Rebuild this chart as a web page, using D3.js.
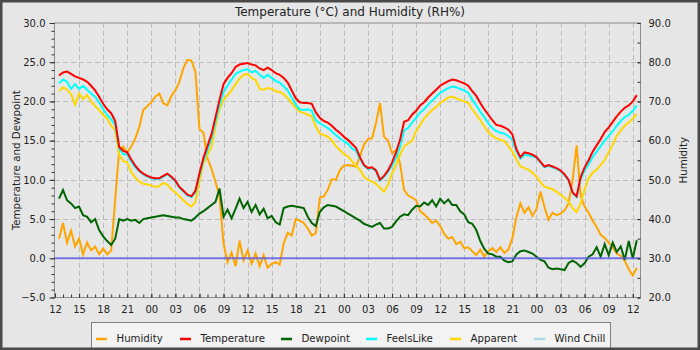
<!DOCTYPE html>
<html>
<head>
<meta charset="utf-8">
<script src="https://cdn.jsdelivr.net/npm/d3@7/dist/d3.min.js"></script>
<style>
  html, body { margin: 0; padding: 0; background: #e6e6e6; }
  svg { display: block; font-family: "DejaVu Sans", sans-serif; }
</style>
</head>
<body>
<svg id="chart" width="700" height="350"></svg>
<script>
// Readings every 30 minutes, first one at 12:30 on day 1
const firstReading = new Date(2021, 5, 14, 12, 30);
const readingStepMinutes = 30;
const axisStart = new Date(2021, 5, 14, 12, 0);
const axisEnd = new Date(2021, 5, 17, 12, 54);

const temperature = [
  23.3, 23.7, 23.8, 23.5, 23.2, 23.0, 22.8, 22.5, 22.0, 21.4,
  20.6, 19.7, 19.0, 18.5, 17.5, 14.2, 13.7, 13.5, 12.6, 11.8,
  11.2, 10.8, 10.5, 10.3, 10.2, 10.2, 10.5, 10.8, 10.4, 9.9,
  9.1, 8.6, 8.1, 7.9, 8.6, 10.8, 12.8, 14.3, 15.8, 18.0,
  20.2, 22.2, 23.0, 23.6, 24.4, 24.7, 24.8, 24.9, 24.7, 24.6,
  24.2, 24.0, 24.3, 24.0, 23.6, 23.4, 23.0, 22.4, 21.4, 20.4,
  19.9, 19.8, 19.8, 19.7, 18.6, 17.9, 17.5, 17.3, 16.9, 16.4,
  16.0, 15.5, 15.1, 14.6, 14.1, 12.9, 11.9, 11.5, 11.6, 11.2,
  10.0, 10.5, 11.2, 12.2, 13.5, 15.1, 17.4, 17.6, 18.3, 18.8,
  19.5, 19.9, 20.5, 21.0, 21.5, 22.0, 22.3, 22.6, 22.8, 22.7,
  22.5, 22.3, 22.0, 21.3, 20.7, 19.8, 19.0, 18.3, 17.6, 17.0,
  16.9, 16.7, 16.4, 15.8, 13.9, 12.9, 13.5, 13.4, 13.2, 12.9,
  12.3, 11.7, 11.9, 11.7, 11.5, 11.2, 10.7, 10.0, 8.4, 7.9,
  10.3, 11.6, 12.5, 13.6, 14.4, 15.2, 16.1, 16.7, 17.4, 18.1,
  18.7, 19.2, 19.5, 20.0, 20.8
];

const feelsLike = [
  22.3, 22.8, 22.5, 21.6, 22.2, 21.6, 22.0, 21.5, 21.0, 20.6,
  19.9, 19.0, 18.3, 17.7, 17.0, 14.0, 13.3, 13.2, 12.3, 11.6,
  11.1, 10.7, 10.4, 10.2, 10.1, 10.1, 10.4, 10.7, 10.3, 9.8,
  9.0, 8.5, 8.0, 7.8, 8.4, 10.5, 12.4, 13.8, 15.3, 17.4,
  19.5, 21.2, 22.0, 22.8, 23.5, 23.8, 24.0, 24.1, 23.7, 23.9,
  23.4, 23.0, 23.4, 23.0, 22.6, 22.4, 21.9, 21.4, 20.5, 19.6,
  19.0, 18.9, 19.0, 18.8, 17.6, 17.2, 16.9, 16.6, 16.2, 15.7,
  15.3, 14.9, 14.6, 14.0, 13.7, 12.7, 11.8, 11.4, 11.5, 11.1,
  9.9, 10.4, 11.0, 11.8, 12.8, 14.2, 16.3, 16.6, 17.3, 17.9,
  18.6, 19.0, 19.6, 20.1, 20.6, 21.1, 21.4, 21.7, 21.9, 21.8,
  21.6, 21.4, 21.1, 20.2, 19.5, 18.7, 18.0, 17.2, 16.6, 16.2,
  16.0, 15.9, 15.6, 15.1, 13.6, 12.7, 13.2, 13.1, 13.0, 12.8,
  12.2, 11.6, 11.8, 11.6, 11.4, 11.1, 10.6, 9.9, 8.3, 7.8,
  10.0, 11.2, 12.0, 12.9, 13.6, 14.3, 15.0, 15.6, 16.2, 16.9,
  17.5, 18.0, 18.3, 18.8, 19.5
];

const apparent = [
  21.3, 21.8, 21.5, 20.9, 19.6, 21.0, 20.3, 20.8, 20.0, 19.4,
  18.9, 18.3, 17.8, 16.9, 16.3, 13.2, 12.4, 12.2, 11.0, 10.3,
  9.8, 9.5, 9.4, 9.3, 9.1, 9.2, 9.6, 9.4, 8.8, 8.4,
  7.9, 7.4, 6.9, 6.6, 7.2, 9.8, 12.1, 13.2, 14.2, 16.8,
  19.0, 20.2, 20.8, 21.4, 22.2, 22.9, 23.4, 23.5, 23.0, 22.7,
  21.6, 21.5, 21.7, 21.6, 21.3, 21.2, 20.9, 20.4, 19.8, 19.2,
  18.7, 18.5, 18.3, 18.1, 16.8, 15.9, 15.7, 15.5, 15.0, 14.3,
  13.8, 13.3, 13.0, 12.4, 11.8, 11.3, 10.4, 10.0, 9.8, 9.5,
  9.0, 8.5, 9.4, 10.8, 11.9, 13.2, 14.3, 14.6, 15.0, 16.2,
  17.0, 17.8, 18.4, 18.9, 19.3, 19.8, 20.1, 20.5, 20.6, 20.4,
  20.2, 20.0, 19.8, 19.0, 18.3, 17.6, 16.8, 16.1, 15.6, 15.3,
  15.1, 14.9, 14.3, 13.6, 12.6, 11.7, 11.5, 11.3, 10.9, 10.4,
  9.7, 9.1, 9.0, 8.8, 8.5, 8.1, 7.7, 7.2, 6.4, 5.9,
  7.0, 8.8, 10.2, 10.9, 11.3, 11.9, 12.5, 13.5, 14.5, 15.6,
  16.3, 16.9, 17.3, 17.8, 18.4
];

const dewpoint = [
  7.6, 8.7, 7.4, 7.0, 6.4, 6.6, 5.5, 5.3, 4.6, 5.0,
  3.6, 2.8, 2.2, 1.7, 2.5, 5.0, 4.8, 5.0, 4.8, 4.9,
  4.5, 5.0, 5.1, 5.2, 5.3, 5.4, 5.5, 5.4, 5.3, 5.2,
  5.2, 5.0, 4.9, 4.8, 5.2, 5.7, 6.0, 6.4, 6.8, 7.2,
  8.9, 5.3, 6.2, 5.1, 6.3, 7.6, 6.4, 7.2, 5.9, 6.8,
  5.6, 6.3, 5.1, 5.4, 4.6, 4.3, 6.4, 6.6, 6.7, 6.6,
  6.5, 6.4, 5.3, 4.5, 4.1, 5.9, 6.5, 6.8, 6.7, 6.6,
  6.3, 6.0, 5.7, 5.4, 5.1, 4.8, 4.4, 4.2, 4.0, 4.3,
  4.5, 3.8, 3.8, 4.0, 4.7, 5.3, 5.6, 5.5, 6.2, 6.7,
  6.6, 7.1, 6.8, 7.4, 6.6, 7.6, 7.0, 7.5, 6.8, 6.8,
  6.0, 5.6, 4.6, 4.4, 3.6, 2.2, 1.2, 0.6, 0.5, 0.2,
  0.2, -0.3, -0.5, -0.4, 0.5, 0.9, 1.0, 0.8, 0.6, 0.2,
  -0.2, -0.4, -1.2, -1.4, -1.3, -1.4, -1.5, -0.6, -0.3, -0.6,
  -1.1, -0.6, 0.2, 0.5, 1.4, 0.2, 1.8, 0.4, 2.0, 0.8,
  1.5, -0.2, 2.2, 0.0, 2.3
];

const humidity = [
  35.0, 39.0, 34.0, 37.0, 33.0, 35.0, 31.0, 34.0, 32.0, 33.0,
  31.0, 32.5, 31.0, 32.0, 45.0, 57.5, 58.5, 57.0, 58.5, 60.5,
  63.5, 67.8, 68.8, 69.8, 71.2, 72.0, 69.5, 69.0, 71.4, 72.8,
  75.0, 78.5, 80.6, 80.4, 77.5, 63.0, 62.0, 55.5, 52.8, 49.5,
  45.8, 33.8, 29.0, 31.5, 28.0, 34.5, 29.5, 32.0, 28.6, 31.2,
  28.0, 30.8, 27.6, 28.6, 29.0, 28.4, 33.8, 36.5, 35.8, 40.0,
  39.6, 39.0, 37.6, 35.8, 36.4, 45.5, 45.8, 47.5, 50.2, 50.0,
  52.5, 53.6, 53.8, 53.6, 53.4, 56.0, 59.0, 60.4, 60.6, 64.5,
  69.6, 61.0, 60.0, 56.8, 57.6, 54.2, 47.4, 46.0, 45.5, 44.8,
  42.0, 41.2, 40.2, 39.0, 39.6, 38.2, 36.2, 35.0, 35.4, 33.6,
  34.2, 32.6, 32.8, 31.8, 30.8, 32.2, 30.4, 31.8, 32.6, 31.6,
  32.8, 31.4, 32.2, 35.2, 40.6, 44.0, 41.6, 43.0, 40.8, 42.6,
  47.0, 43.0, 39.8, 41.6, 41.0, 41.4, 42.2, 44.0, 50.0, 58.8,
  46.0, 43.2, 41.6, 39.6, 38.0, 36.0, 35.2, 34.0, 32.8, 31.2,
  30.6, 29.4, 27.2, 25.6, 27.6
];

const leftTicks = [-5, 0, 5, 10, 15, 20, 25, 30];
const rightTicks = [20, 30, 40, 50, 60, 70, 80, 90];

const legendItems = [
  { name: "Humidity", color: "#ffa500" },
  { name: "Temperature", color: "#ff0000" },
  { name: "Dewpoint", color: "#006400" },
  { name: "FeelsLike", color: "#00ffff" },
  { name: "Apparent", color: "#ffd700" },
  { name: "Wind Chill", color: "#add8e6" }
];

// ---- layout ----
const W = 700, H = 350;
const plot = { left: 55, right: 640, top: 23, bottom: 297.5 };

const svg = d3.select("#chart");
svg.append("rect").attr("width", W).attr("height", H).attr("fill", "#e6e6e6");

const times = temperature.map((_, i) => d3.timeMinute.offset(firstReading, i * readingStepMinutes));

const x = d3.scaleTime().domain([axisStart, axisEnd]).range([plot.left, plot.right]);
const yL = d3.scaleLinear().domain([-5, 30]).range([plot.bottom, plot.top]);
const yR = d3.scaleLinear().domain([20, 90]).range([plot.bottom, plot.top]);

// ---- title ----
svg.append("text")
  .attr("x", 350).attr("y", 15.5)
  .attr("text-anchor", "middle")
  .attr("font-size", 12).attr("fill", "#222")
  .text("Temperature (°C) and Humidity (RH%)");

// ---- grid ----
const majorTimes = d3.timeHour.every(3).range(axisStart, axisEnd);
const grid = svg.append("g").attr("stroke", "#bcbcbc").attr("stroke-width", 1).attr("stroke-dasharray", "5,3");
grid.selectAll("line.v").data(majorTimes.slice(1)).join("line")
  .attr("x1", d => Math.round(x(d)) + 0.5).attr("x2", d => Math.round(x(d)) + 0.5)
  .attr("y1", plot.top).attr("y2", plot.bottom);
grid.selectAll("line.h").data(leftTicks.slice(1, -1)).join("line")
  .attr("x1", plot.left).attr("x2", plot.right)
  .attr("y1", d => Math.round(yL(d)) + 0.5).attr("y2", d => Math.round(yL(d)) + 0.5);

// ---- series ----
svg.append("clipPath").attr("id", "plotClip").append("rect")
  .attr("x", plot.left).attr("y", plot.top)
  .attr("width", plot.right - plot.left).attr("height", plot.bottom - plot.top);

const lines = svg.append("g").attr("clip-path", "url(#plotClip)").attr("fill", "none")
  .attr("stroke-width", 2).attr("stroke-linejoin", "miter");

function drawSeries(values, scale, color) {
  const line = d3.line().x((d, i) => x(times[i])).y(d => scale(d));
  lines.append("path").attr("d", line(values)).attr("stroke", color);
}

drawSeries(humidity, yR, "#ffa500");
drawSeries(dewpoint, yL, "#006400");
drawSeries(apparent, yL, "#ffd700");
drawSeries(feelsLike, yL, "#00ffff");
drawSeries(temperature, yL, "#ff0000");

// freezing reference line
lines.append("line")
  .attr("x1", plot.left).attr("x2", plot.right)
  .attr("y1", yL(0)).attr("y2", yL(0))
  .attr("stroke", "#5a5ae6").attr("stroke-opacity", 0.8).attr("stroke-width", 2);

// ---- plot frame ----
svg.append("rect")
  .attr("x", plot.left - 0.5).attr("y", plot.top)
  .attr("width", plot.right - plot.left + 1).attr("height", plot.bottom - plot.top)
  .attr("fill", "none").attr("stroke", "#8c8c8c").attr("stroke-width", 1);

// ---- axes ----
function styleAxis(g) {
  g.select(".domain").remove();
  g.selectAll(".tick line").attr("stroke", "#333");
  g.selectAll(".tick text").attr("fill", "#222").attr("font-size", 10)
    .attr("font-family", "DejaVu Sans, sans-serif");
}

// left: major and minor
svg.append("g").attr("transform", `translate(${plot.left - 0.5},0)`)
  .call(d3.axisLeft(yL).tickValues(d3.range(-5, 30.01, 1)).tickSize(3).tickFormat(""))
  .call(styleAxis);
svg.append("g").attr("transform", `translate(${plot.left - 0.5},0)`)
  .call(d3.axisLeft(yL).tickValues(leftTicks).tickSize(5).tickPadding(4).tickFormat(d3.format(".1f")))
  .call(styleAxis);

// right: ticks inward
svg.append("g").attr("transform", `translate(${plot.right + 0.5},0)`)
  .call(d3.axisRight(yR).tickValues(d3.range(20, 90.01, 5)).tickSize(-3).tickFormat(""))
  .call(styleAxis);
svg.append("g").attr("transform", `translate(${plot.right + 0.5},0)`)
  .call(d3.axisRight(yR).tickValues(rightTicks).tickSize(-3).tickPadding(8).tickFormat(d3.format(".1f")))
  .call(styleAxis);

// bottom: hourly minor ticks, 3-hourly labels, ticks pointing into the plot
svg.append("g").attr("transform", `translate(0,${plot.bottom})`)
  .call(d3.axisBottom(x).ticks(d3.timeHour.every(1)).tickSize(-3).tickFormat(""))
  .call(styleAxis);
svg.append("g").attr("transform", `translate(0,${plot.bottom})`)
  .call(d3.axisBottom(x).tickValues(majorTimes).tickSize(-4).tickPadding(8).tickFormat(d3.timeFormat("%H")))
  .call(styleAxis);

// ---- axis titles ----
svg.append("text")
  .attr("transform", `translate(19.5,${(plot.top + plot.bottom) / 2}) rotate(-90)`)
  .attr("text-anchor", "middle").attr("font-size", 10.3).attr("fill", "#222")
  .text("Temperature and Dewpoint");
svg.append("text")
  .attr("transform", `translate(686.5,${(plot.top + plot.bottom) / 2}) rotate(-90)`)
  .attr("text-anchor", "middle").attr("font-size", 10.3).attr("fill", "#222")
  .text("Humidity");

// ---- legend ----
const legend = svg.append("g");
legend.append("rect")
  .attr("x", 91.5).attr("y", 322.5).attr("width", 519).attr("height", 26)
  .attr("fill", "#f3f3f3").attr("stroke", "#808080");
const legendX = [96, 180, 281, 366, 450, 534];
legendItems.forEach((item, i) => {
  legend.append("line")
    .attr("x1", legendX[i]).attr("x2", legendX[i] + 11)
    .attr("y1", 339).attr("y2", 339)
    .attr("stroke", item.color).attr("stroke-width", 2.5);
  legend.append("text")
    .attr("x", legendX[i] + 20.5).attr("y", 342)
    .attr("font-size", 10.2).attr("fill", "#222")
    .text(item.name);
});

// ---- outer frame ----
svg.append("rect")
  .attr("x", 1.25).attr("y", 1.25).attr("width", W - 2.5).attr("height", H - 2.5)
  .attr("fill", "none").attr("stroke", "#4a4a4a").attr("stroke-width", 2.5);
</script>
</body>
</html>
